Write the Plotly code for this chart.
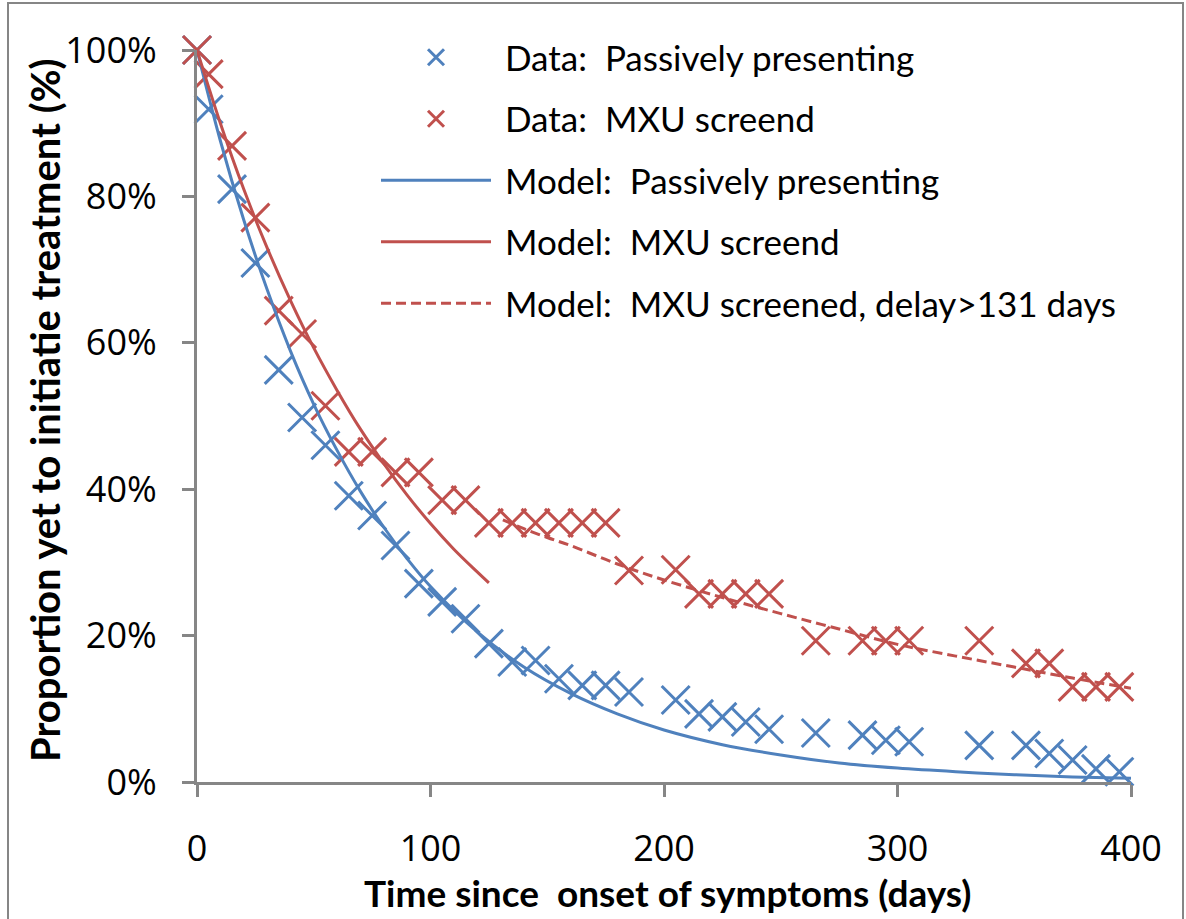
import plotly.graph_objects as go

# ---- data ----
days = [0, 5, 15, 25, 35, 45, 55, 65, 75, 85, 95, 105, 115, 125, 135, 145, 155, 165,
        175, 185, 205, 215, 225, 235, 245, 265, 285, 295, 305, 335, 355, 365, 375, 385, 395]
passive_data = [100, 91.9, 81.0, 70.9, 56.3, 49.8, 46.0, 39.1, 36.4, 32.3, 27.1, 24.6, 22.3,
                18.9, 16.4, 16.6, 14.1, 13.2, 13.2, 12.3, 11.2, 9.3, 8.9, 8.2, 7.2, 6.7, 6.4,
                5.7, 5.5, 5.0, 5.0, 3.9, 3.0, 1.8, 1.4]
mxu_data = [100, 96.7, 86.9, 77.1, 64.4, 61.2, 51.4, 45.1, 45.1, 42.3, 42.3, 38.5, 38.5,
            35.4, 35.4, 35.4, 35.4, 35.4, 35.4, 28.9, 29.0, 25.7, 25.7, 25.7, 25.7, 19.3, 19.3,
            19.3, 19.3, 19.3, 16.2, 16.2, 13.0, 13.0, 13.0]

model_passive_t = [0, 10, 20, 30, 40, 50, 60, 70, 80, 90, 100, 120, 140, 160, 180, 200,
                   225, 250, 275, 300, 325, 350, 375, 400]
model_passive_y = [100, 87.6, 76.8, 67.3, 58.9, 51.6, 45.3, 39.7, 34.8, 30.5, 26.7, 20.5,
                   15.7, 12.1, 9.3, 7.1, 5.1, 3.7, 2.6, 1.9, 1.4, 1.0, 0.7, 0.5]
model_mxu_t = [0, 10, 20, 30, 40, 50, 60, 70, 80, 90, 100, 110, 120, 125]
model_mxu_y = [100, 90.0, 81.0, 73.0, 65.8, 59.3, 53.5, 48.2, 43.5, 39.2, 35.3, 31.8, 28.7, 27.2]
model_delay_t = [131, 140, 150, 160, 175, 185, 200, 225, 250, 275, 300, 325, 350, 375, 400]
model_delay_y = [35.8, 34.6, 33.4, 32.3, 30.4, 29.2, 27.6, 25.2, 23.0, 20.9, 18.8, 17.2,
                 15.7, 14.2, 12.8]

x_ticks = [0, 100, 200, 300, 400]
x_tick_labels = ["0", "100", "200", "300", "400"]
y_ticks = [0, 20, 40, 60, 80, 100]
y_tick_labels = ["0%", "20%", "40%", "60%", "80%", "100%"]

BLUE = "#4F81BD"
RED = "#C0504D"
AXIS = "#868686"
NB = "\u00a0"

# plot area in pixels (for placing decorations in paper coordinates)
L, R, T, B = 197, 1131, 50, 782
PW, PH = R - L, B - T


def px(xp):
    return (xp - L) / PW


def py(yp):
    return (B - yp) / PH


fig = go.Figure()
fig.add_trace(go.Scatter(
    x=days, y=passive_data, mode="markers", name=NB + "Data:" + NB + " Passively presenting",
    legendgroup="a",
    marker=dict(symbol="x-thin", size=28, line=dict(color=BLUE, width=3), color=BLUE),
    cliponaxis=False))
fig.add_trace(go.Scatter(
    x=days, y=mxu_data, mode="markers", name=NB + "Data:" + NB + " MXU screend",
    legendgroup="b",
    marker=dict(symbol="x-thin", size=28, line=dict(color=RED, width=3), color=RED),
    cliponaxis=False))
fig.add_trace(go.Scatter(
    x=model_passive_t, y=model_passive_y, mode="lines", line_shape="spline",
    name=NB + "Model:" + NB + " Passively presenting", legendgroup="c",
    line=dict(color=BLUE, width=3)))
fig.add_trace(go.Scatter(
    x=model_mxu_t, y=model_mxu_y, mode="lines", line_shape="spline",
    name=NB + "Model:" + NB + " MXU screend", legendgroup="d",
    line=dict(color=RED, width=3)))
fig.add_trace(go.Scatter(
    x=model_delay_t, y=model_delay_y, mode="lines", line_shape="spline",
    name=NB + "Model:" + NB + " MXU screened, delay>131 days", legendgroup="e",
    line=dict(color=RED, width=3, dash="10px,5px")))

fig.update_layout(
    width=1186, height=919,
    margin=dict(l=L, r=1186 - R, t=T, b=919 - B, autoexpand=False),
    paper_bgcolor="white", plot_bgcolor="white",
    font=dict(family="Open Sans", size=36, color="black"),
    showlegend=True,
    legend=dict(
        x=px(376), xanchor="left", y=py(28), yanchor="top",
        traceorder="grouped", tracegroupgap=13, itemwidth=110,
        font=dict(family="Lato", size=35, color="black"),
        bgcolor="rgba(0,0,0,0)",
    ),
    xaxis=dict(
        range=[0, 400], tickvals=x_ticks, ticktext=x_tick_labels, ticks="outside",
        ticklen=12, tickwidth=3, tickcolor=AXIS, showline=True, linecolor=AXIS,
        linewidth=3, showgrid=False, zeroline=False, ticklabelstandoff=21,
    ),
    yaxis=dict(
        range=[0, 100], tickvals=y_ticks, ticktext=y_tick_labels, ticks="outside",
        ticklen=12, tickwidth=3, tickcolor=AXIS, showline=True, linecolor=AXIS,
        linewidth=3, showgrid=False, zeroline=False, ticklabelstandoff=18,
    ),
    annotations=[
        dict(text="<b>Time since" + NB + " onset of symptoms (days)</b>", xref="paper",
             yref="paper", x=px(667), y=py(893), xanchor="center", yanchor="middle",
             showarrow=False, font=dict(family="Lato", size=37, color="black")),
        dict(text="<b>Proportion yet to initiatie treatment (%)</b>", xref="paper",
             yref="paper", x=px(45), y=py(411), xanchor="center", yanchor="middle",
             textangle=-90, showarrow=False,
             font=dict(family="Lato", size=40, color="black")),
    ],
    shapes=[dict(type="rect", xref="paper", yref="paper",
                 x0=px(8), x1=px(1183), y0=py(930), y1=py(3),
                 line=dict(color=AXIS, width=2), layer="below")],
)

fig.write_html("out.html", config={"displayModeBar": False},
               post_script="document.body.style.margin='0px';")
